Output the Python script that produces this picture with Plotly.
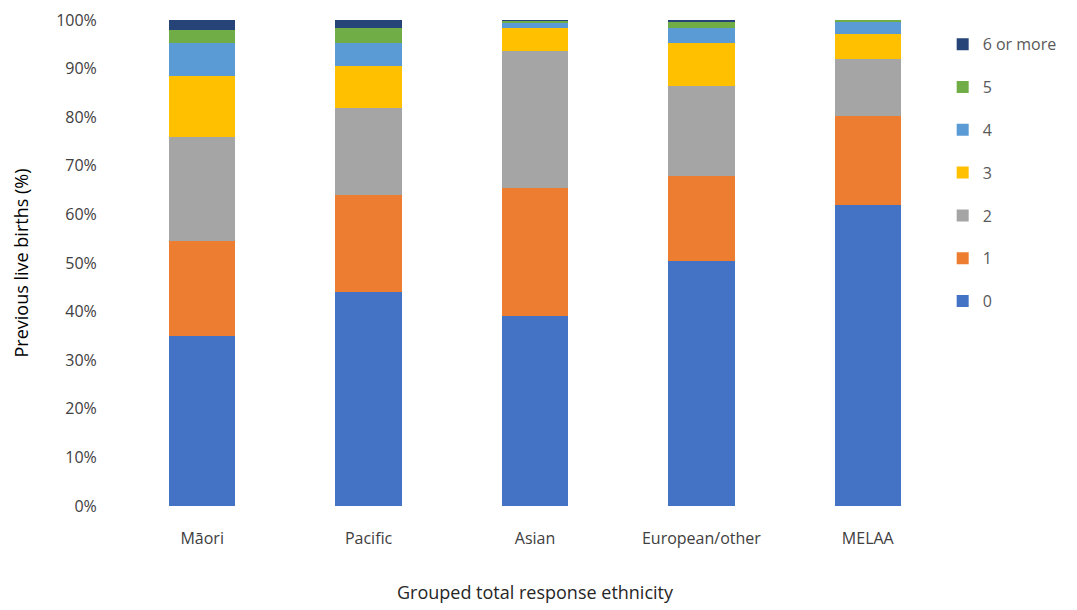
import plotly.graph_objects as go

categories = ["Māori", "Pacific", "Asian", "European/other", "MELAA"]
series_names = ["0", "1", "2", "3", "4", "5", "6 or more"]
v0 = [35.0, 44.0, 39.0, 50.5, 62.0]
v1 = [19.5, 20.0, 26.4, 17.5, 18.3]
v2 = [21.5, 17.8, 28.3, 18.4, 11.6]
v3 = [12.4, 8.8, 4.6, 8.8, 5.2]
v4 = [6.8, 4.6, 1.2, 3.2, 2.5]
v5 = [2.8, 3.1, 0.3, 1.1, 0.5]
v6 = [2.0, 1.7, 0.2, 0.5, 0.1]
colors = ["#4472C4", "#ED7D31", "#A5A5A5", "#FFC000", "#5B9BD5", "#70AD47", "#264478"]

values = [v0, v1, v2, v3, v4, v5, v6]

fig = go.Figure()
n = len(series_names)
for i, (name, vals, col) in enumerate(zip(series_names, values, colors)):
    fig.add_trace(go.Bar(
        x=categories, y=vals, name=name, marker_color=col,
        marker_line_width=0, width=0.4, legendgroup=name,
        legendrank=n - i,
    ))

fig.update_layout(
    barmode="stack",
    width=1077, height=610,
    margin=dict(l=111, r=134, t=12, b=112, autoexpand=False),
    plot_bgcolor="white", paper_bgcolor="white",
    font=dict(family="Open Sans, Noto Sans, sans-serif", color="#595959", size=16),
    legend=dict(
        traceorder="grouped", tracegroupgap=19,
        x=0.99, xanchor="left", y=0.985, yanchor="top",
        font=dict(size=16, color="#595959"),
        itemwidth=30,
    ),
    xaxis=dict(
        title=dict(text="Grouped total response ethnicity", font=dict(size=18, color="#262626"), standoff=38),
        showgrid=False, showline=False, ticks="outside", ticklen=18, tickcolor="rgba(0,0,0,0)",
        tickfont=dict(size=16, color="#404040"), automargin=False,
    ),
    yaxis=dict(
        title=dict(text="Previous live births (%)", font=dict(size=18, color="#000000"), standoff=22),
        range=[0, 100], dtick=10, ticksuffix="%", showgrid=False, showline=False,
        ticks="outside", ticklen=18, tickcolor="rgba(0,0,0,0)", ticklabeloverflow="allow",
        tickfont=dict(size=16, color="#404040"), zeroline=False, automargin=False,
    ),
)

fig.write_html("out.html")
